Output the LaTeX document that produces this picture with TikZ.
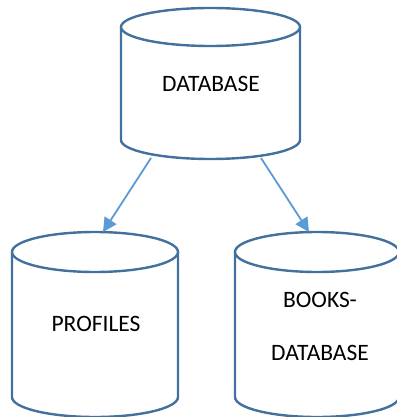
\documentclass[tikz,border=0pt]{standalone}
\usepackage{fontspec}
\setmainfont{Carlito}
\usetikzlibrary{arrows.meta,calc}
\definecolor{CylClr}{RGB}{65,113,156}
\definecolor{ArrowClr}{RGB}{91,155,213}

\newcommand{\dbCylinder}[5]{% center x, top y, bottom y, x radius, y radius
  \fill[white] (#1-#4,#2) -- (#1-#4,#3) arc[start angle=180,end angle=0,x radius=#4,y radius=#5] -- (#1+#4,#2) -- cycle;
  \draw[cyl] (#1-#4,#2) -- (#1-#4,#3) arc[start angle=180,end angle=0,x radius=#4,y radius=#5] -- (#1+#4,#2);
  \draw[cyl,fill=white] (#1,#2) ellipse[x radius=#4,y radius=#5];
}

\begin{document}
\begin{tikzpicture}[x=1pt,y=-1pt,
  cyl/.style={line width=2.4pt,color=CylClr},
  link/.style={line width=1.8pt,color=ArrowClr,-{Triangle[length=14pt,width=14pt]}},
  label/.style={font=\fontsize{23.5}{28}\selectfont,inner sep=0pt}]
\useasboundingbox (0,0) rectangle (396,417);

\dbCylinder{210.5}{27}{140}{89.5}{19}
\dbCylinder{95}{252}{397}{83}{20}
\dbCylinder{317}{252}{397}{82}{20}

\node[label] (db) at (211,84) {DATABASE};
\node[label] (prof) at (96,324) {PROFILES};
\node[label] (books) at (320,300) {BOOKS-};
\node[label] (booksdb) at (320,353) {DATABASE};

\coordinate (dbL) at (151,158);
\coordinate (dbR) at (261,158);
\coordinate (profT) at (103,232);
\coordinate (booksT) at (309,232);

\draw[link] (dbL) -- (profT);
\draw[link] (dbR) -- (booksT);

\end{tikzpicture}
\end{document}
